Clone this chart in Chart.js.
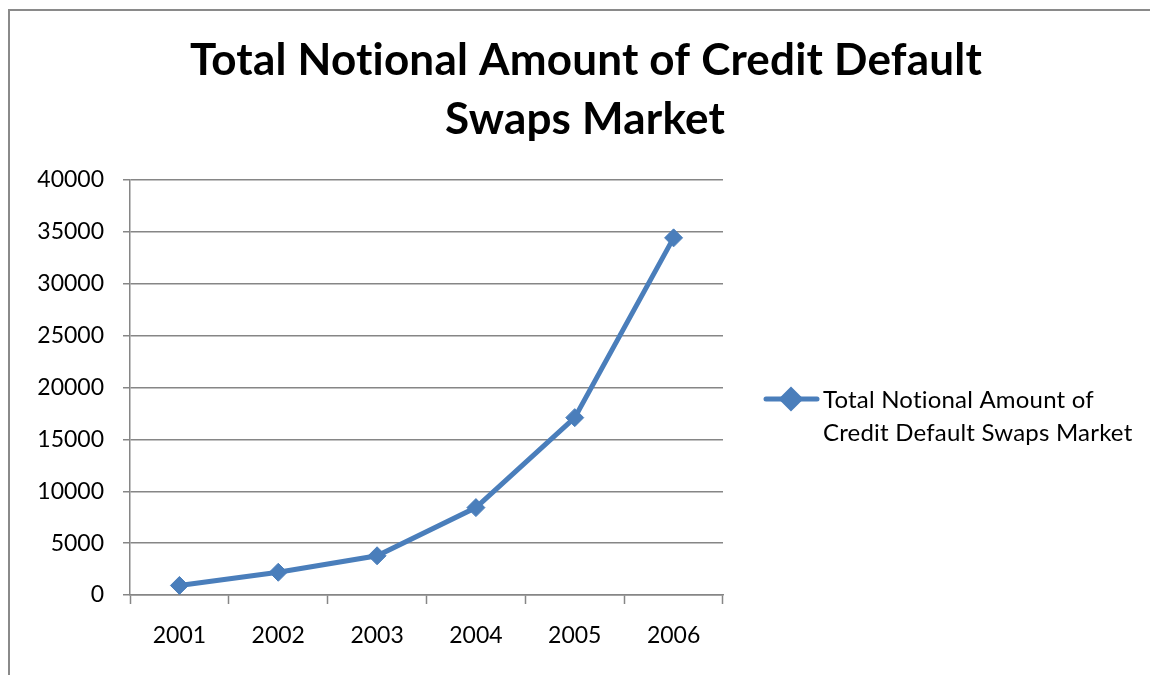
<!DOCTYPE html>
<html>
<head>
<meta charset="utf-8">
<title>Total Notional Amount of Credit Default Swaps Market</title>
<script src="https://cdn.jsdelivr.net/npm/chart.js@4/dist/chart.umd.min.js"></script>
<style>
    html, body { margin: 0; padding: 0; background: #ffffff; }
    #chart-wrap { width: 1150px; height: 675px; }
</style>
</head>
<body>
<div id="chart-wrap">
    <canvas id="cdsChart" width="1150" height="675"></canvas>
</div>
<script>
// Data: CDS market size by year (billions USD)
const years = ['2001', '2002', '2003', '2004', '2005', '2006'];
const notionalAmounts = [918.87, 2191.57, 3779.40, 8422.26, 17096.14, 34422.80];
const seriesName = 'Total Notional Amount of Credit Default Swaps Market';
const titleLines = ['Total Notional Amount of Credit Default', 'Swaps Market'];
const legendLines = ['Total Notional Amount of', 'Credit Default Swaps Market'];
const yTicks = [0, 5000, 10000, 15000, 20000, 25000, 30000, 35000, 40000];

const FONT = 'Lato, Carlito, Calibri, sans-serif';
const LINE_COLOR = '#4a7ebb';
const AXIS_COLOR = '#868686';

/**
 * Frame + title + two-line legend, drawn on top of the chart canvas
 */
const decorPlugin = {
    id: 'decor',
    afterDraw(chart) {
        const ctx = chart.ctx;
        ctx.save();

        // outer frame (runs off the right/bottom edge)
        ctx.strokeStyle = '#8a8a8a';
        ctx.lineWidth = 2;
        ctx.beginPath();
        ctx.moveTo(9, 1000);
        ctx.lineTo(9, 10);
        ctx.lineTo(1200, 10);
        ctx.stroke();

        // tiny spacing keeps Lato from merging "ti" into a ligature
        if ('letterSpacing' in ctx) ctx.letterSpacing = '0.2px';

        // title
        ctx.fillStyle = '#000000';
        ctx.font = 'bold 44px ' + FONT;
        ctx.textAlign = 'center';
        ctx.textBaseline = 'alphabetic';
        ctx.fillText(titleLines[0], 586, 75);
        ctx.fillText(titleLines[1], 585, 134);

        // legend entry
        const ds = chart.data.datasets[0];
        const ly = 399;
        ctx.strokeStyle = ds.borderColor;
        ctx.lineWidth = 5;
        ctx.lineCap = 'round';
        ctx.beginPath();
        ctx.moveTo(766, ly);
        ctx.lineTo(817, ly);
        ctx.stroke();
        Chart.helpers.drawPoint(ctx, {
            pointStyle: ds.pointStyle,
            radius: ds.pointRadius,
            borderWidth: 1
        }, 791, ly);
        ctx.fillStyle = ds.pointBackgroundColor;
        ctx.fill();

        ctx.fillStyle = '#000000';
        ctx.font = '24px ' + FONT;
        ctx.textAlign = 'left';
        ctx.fillText(legendLines[0], 823, 408);
        ctx.fillText(legendLines[1], 823, 441);

        ctx.restore();
    }
};

const chart = new Chart(document.getElementById('cdsChart'), {
    type: 'line',
    data: {
        labels: years,
        datasets: [{
            label: seriesName,
            data: notionalAmounts,
            borderColor: LINE_COLOR,
            backgroundColor: LINE_COLOR,
            borderWidth: 5,
            tension: 0,
            fill: false,
            pointStyle: 'rectRot',
            pointRadius: 9,
            pointHoverRadius: 9,
            pointBackgroundColor: LINE_COLOR,
            pointBorderColor: LINE_COLOR,
            pointBorderWidth: 1
        }]
    },
    options: {
        responsive: false,
        animation: false,
        layout: {
            padding: { top: 180, right: 427, bottom: 0, left: 0 }
        },
        plugins: {
            legend: { display: false },
            title: { display: false },
            tooltip: { enabled: false }
        },
        scales: {
            x: {
                type: 'category',
                offset: true,
                afterFit(scale) { scale.height = 80; },
                grid: {
                    offset: true,
                    drawOnChartArea: false,
                    drawTicks: true,
                    tickLength: 9,
                    tickColor: AXIS_COLOR,
                    tickWidth: 1.5
                },
                border: { color: AXIS_COLOR, width: 1.5 },
                ticks: {
                    color: '#000000',
                    font: { family: FONT, size: 23 },
                    padding: 18,
                    maxRotation: 0
                }
            },
            y: {
                min: 0,
                max: 40000,
                afterFit(scale) { scale.width = 130; },
                afterBuildTicks(scale) {
                    scale.ticks = yTicks.map(v => ({ value: v }));
                },
                grid: {
                    color: AXIS_COLOR,
                    lineWidth: 1.5,
                    drawTicks: true,
                    tickLength: 7,
                    tickColor: AXIS_COLOR
                },
                border: { color: AXIS_COLOR, width: 1.5 },
                ticks: {
                    color: '#000000',
                    font: { family: FONT, size: 23 },
                    padding: 19,
                    // plain integers, no thousands separator
                    callback: value => String(value)
                }
            }
        }
    },
    plugins: [decorPlugin]
});
</script>
</body>
</html>
